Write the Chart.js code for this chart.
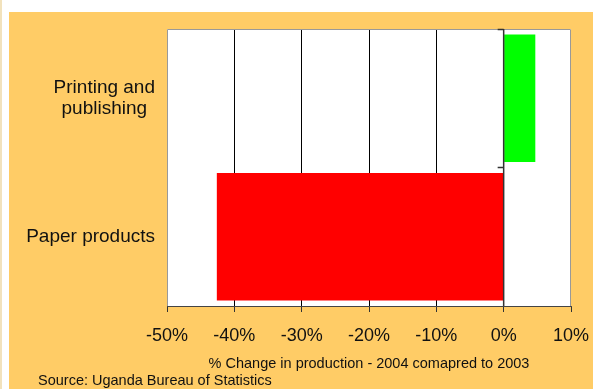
<!DOCTYPE html>
<html>
<head>
<meta charset="utf-8">
<script src="https://cdn.jsdelivr.net/npm/chart.js@4/dist/chart.umd.min.js"></script>
<style>
  html, body { margin: 0; padding: 0; background: #fff; }
  canvas { display: block; }
</style>
</head>
<body>
<canvas id="productionChart" width="593" height="389"></canvas>
<script>
const categories = [['Printing and', 'publishing'], 'Paper products'];
const changes = [4.7, -42.6];
const barColors = ['#00ff00', '#ff0000'];
const axisMin = -50;
const axisMax = 10;
const axisStep = 10;
const axisTitle = '% Change in production - 2004 comapred to 2003';
const sourceNote = 'Source: Uganda Bureau of Statistics';

const FONT = 'Arial, "Liberation Sans", sans-serif';

// orange panel, plot frame, category labels, zero line and the source line
const panel = {
    id: 'panel',
    beforeDraw(chart) {
        const c = chart.ctx;
        const a = chart.chartArea;
        c.save();
        c.fillStyle = '#ffffff';
        c.fillRect(0, 0, chart.width, chart.height);
        c.fillStyle = '#f2e2bc';
        c.fillRect(0, 0, 2, chart.height);
        c.fillStyle = '#ffcc66';
        c.fillRect(9, 12, chart.width - 9, chart.height - 12);
        c.fillStyle = '#ffffff';
        c.fillRect(a.left, a.top, a.right - a.left, a.bottom - a.top);
        c.restore();
    },
    afterDatasetsDraw(chart) {
        const c = chart.ctx;
        const a = chart.chartArea;
        const x0 = chart.scales.x.getPixelForValue(0);
        const y = chart.scales.y;
        c.save();
        c.strokeStyle = '#999999';
        c.lineWidth = 1;
        c.beginPath();
        c.moveTo(a.left + 0.5, a.bottom);
        c.lineTo(a.left + 0.5, a.top + 0.5);
        c.lineTo(a.right - 0.5, a.top + 0.5);
        c.lineTo(a.right - 0.5, a.bottom);
        c.stroke();
        c.strokeStyle = '#333333';
        c.lineWidth = 1.5;
        c.beginPath();
        c.moveTo(x0, a.top);
        c.lineTo(x0, a.bottom);
        const mid = (a.top + a.bottom) / 2;
        [a.top + 0.5, mid].forEach(ty => {
            c.moveTo(x0 - 6, ty);
            c.lineTo(x0, ty);
        });
        c.stroke();

        // category labels: block right-aligned to the plot, lines centred in the block
        c.fillStyle = '#111111';
        c.font = '19px ' + FONT;
        c.textBaseline = 'middle';
        c.textAlign = 'center';
        const right = a.left - 12;
        const lineH = 21;
        categories.forEach((label, i) => {
            const lines = [].concat(label);
            const w = Math.max(...lines.map(l => c.measureText(l).width));
            const cx = right - w / 2;
            const cy = y.getPixelForTick(i);
            lines.forEach((l, k) => {
                c.fillText(l, cx, cy + (k - (lines.length - 1) / 2) * lineH);
            });
        });

        c.font = '14.5px ' + FONT;
        c.textAlign = 'left';
        c.fillText(sourceNote, 38, 381);
        c.restore();
    }
};

const ctx = document.querySelector('#productionChart').getContext('2d');
const productionChart = new Chart(ctx, {
    type: 'bar',
    data: {
        labels: categories,
        datasets: [{
            data: changes,
            backgroundColor: barColors,
            borderWidth: 0,
            barPercentage: 0.92,
            categoryPercentage: 1
        }]
    },
    options: {
        indexAxis: 'y',
        responsive: false,
        animation: false,
        layout: {
            padding: { left: 9, top: 29, right: 22, bottom: 0 }
        },
        scales: {
            x: {
                min: axisMin,
                max: axisMax,
                afterFit(scale) {
                    scale.height = 83;
                    scale.paddingLeft = 0;
                    scale.paddingRight = 0;
                },
                ticks: {
                    stepSize: axisStep,
                    color: '#111111',
                    font: { family: FONT, size: 18 },
                    padding: 13,
                    maxRotation: 0,
                    callback: v => v + '%'
                },
                grid: {
                    color: c => (c.tick && (c.tick.value === axisMin || c.tick.value === axisMax)) ? 'rgba(0,0,0,0)' : '#000000',
                    tickColor: '#333333',
                    tickLength: 6,
                    lineWidth: 1
                },
                border: { display: true, color: '#444444', width: 1 },
                title: {
                    display: true,
                    text: axisTitle,
                    color: '#111111',
                    font: { family: FONT, size: 14.5 },
                    padding: { top: 4, bottom: 16 }
                }
            },
            y: {
                afterFit(scale) { scale.width = 158; },
                ticks: { display: false },
                grid: { display: false, drawTicks: false },
                border: { display: false }
            }
        },
        plugins: {
            legend: { display: false },
            tooltip: { enabled: false }
        }
    },
    plugins: [panel]
});
</script>
</body>
</html>
